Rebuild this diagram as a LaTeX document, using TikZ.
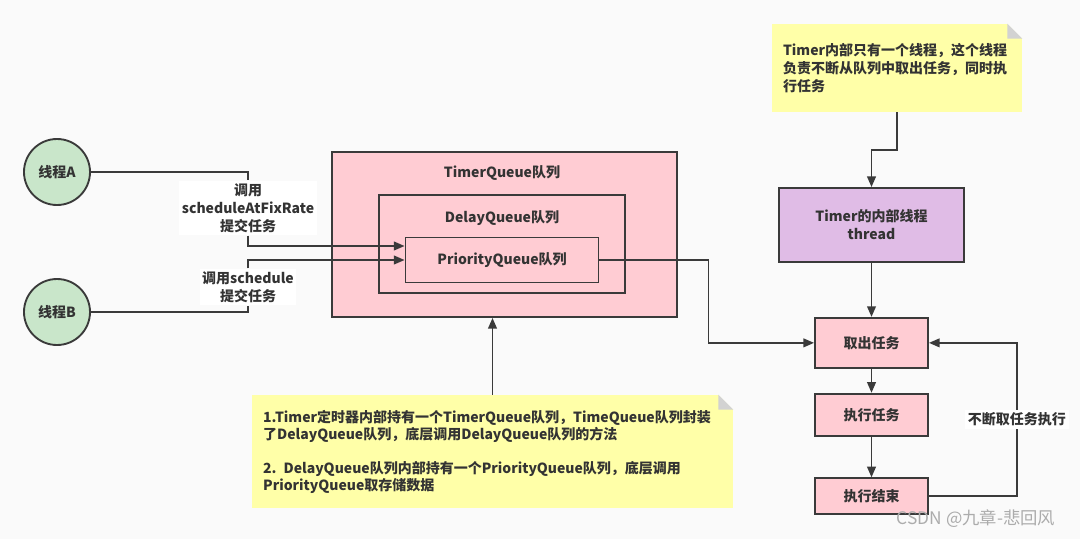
\documentclass[tikz,border=0pt]{standalone}
\usepackage{fontspec}
\setmainfont{Noto Sans CJK SC}
\usetikzlibrary{arrows.meta,positioning}

\definecolor{bgcol}{HTML}{FAFAFA}
\definecolor{linecol}{HTML}{3A3A3A}
\definecolor{txtcol}{HTML}{333333}
\definecolor{pinkfill}{HTML}{FFCCD3}
\definecolor{greenfill}{HTML}{C9E6CA}
\definecolor{purplefill}{HTML}{E0BCE6}
\definecolor{notefill}{HTML}{FFFFA8}
\definecolor{foldcol}{HTML}{D2D2D2}

\begin{document}
\begin{tikzpicture}[x=0.75pt, y=-0.75pt,
    every node/.style={font=\bfseries\fontsize{10.5}{13.5}\selectfont, text=txtcol, align=center},
    box/.style={draw=linecol, line width=1.4pt, rectangle, fill=pinkfill},
    task/.style={box, minimum width=84.75pt},
    thr/.style={draw=linecol, line width=1.4pt, circle, fill=greenfill, minimum size=49.5pt, inner sep=0pt},
    lbl/.style={fill=white, inner sep=2pt},
    note/.style={rectangle, fill=notefill, align=left, inner xsep=8.25pt},
    line/.style={draw=linecol, line width=1.4pt},
    arr/.style={line, -{Triangle[length=8pt, width=6.5pt]}}]
        \fill[bgcol] (0,0) rectangle (1080,539);

        % threads
        \node[thr] (thrA) at (57,172) {线程A};
        \node[thr] (thrB) at (57,312) {线程B};

        % nested queues
        \node[box, minimum width=258.75pt, minimum height=123.75pt] (timerq) at (504.5,234.5) {};
        \node (tqlabel) at (502,173) {TimerQueue队列};
        \node[box, minimum width=184.5pt, minimum height=73.5pt] (delayq) at (502,244) {};
        \node (dqlabel) at (502,218) {DelayQueue队列};
        \node[box, minimum width=144.75pt, minimum height=33.75pt] (prioq) at (502,260) {PriorityQueue队列};

        % labels on the thread lines
        \node[lbl] (labA) at (248,208) {调用\\scheduleAtFixRate\\提交任务};
        \node[lbl] (labB) at (248,287) {调用schedule\\提交任务};

        % notes
        \node[note, minimum width=187.5pt, minimum height=66pt, text width=171pt] (note1) at (897,68)
            {Timer内部只有一个线程，这个线程\\负责不断从队列中取出任务，同时执\\行任务};
        \fill[bgcol] ([xshift=-11.25pt]note1.north east) -- (note1.north east) -- ([yshift=-11.25pt]note1.north east) -- cycle;
        \fill[foldcol] ([xshift=-11.25pt]note1.north east) -- ([yshift=-11.25pt]note1.north east) -- ([xshift=-11.25pt, yshift=-11.25pt]note1.north east) -- cycle;

        \node[note, minimum width=360.75pt, minimum height=84.75pt, text width=344pt, font=\bfseries\fontsize{10.5}{12.75}\selectfont] (note2) at (492.5,451.5)
            {1.Timer定时器内部持有一个TimerQueue队列，TimeQueue队列封装\\了DelayQueue队列，底层调用DelayQueue队列的方法\\[12.75pt]2. DelayQueue队列内部持有一个PriorityQueue队列，底层调用\\PriorityQueue取存储数据};
        \fill[bgcol] ([xshift=-11.25pt]note2.north east) -- (note2.north east) -- ([yshift=-11.25pt]note2.north east) -- cycle;
        \fill[foldcol] ([xshift=-11.25pt]note2.north east) -- ([yshift=-11.25pt]note2.north east) -- ([xshift=-11.25pt, yshift=-11.25pt]note2.north east) -- cycle;

        % worker thread
        \node[box, fill=purplefill, minimum width=138.75pt, minimum height=55.5pt] (thread) at (871.5,225) {Timer的内部线程\\thread};
        \node[task, minimum height=37.5pt, below=40.5pt of thread] (quchu) {取出任务};
        \node[task, minimum height=31.5pt, below=18pt of quchu] (zhixing) {执行任务};
        \node[task, minimum height=27pt, below=30.5pt of zhixing] (jieshu) {执行结束};

        \draw[line] (thrA.east) -| (labA.north);
        \draw[arr] (labA.south) |- ([yshift=10.5pt]prioq.west);
        \draw[line] (thrB.east) -| (labB.south);
        \draw[arr] (labB.north) |- (prioq.west);
        \draw[arr] (prioq.east) -- ++(109,0) |- (quchu.west);
        \draw[arr] (note2.north) -- (note2.north |- timerq.south);
        \draw[arr] (note1.south) -- ++(0,38) -| (thread.north);
        \draw[arr] (thread) -- (quchu);
        \draw[arr] (quchu) -- (zhixing);
        \draw[arr] (zhixing) -- (jieshu);
        \draw[arr] (jieshu.east) -- ++(88,0) |- node[lbl, pos=0.25] (looplabel) {不断取任务执行} (quchu.east);

        \node[font=\fontsize{13}{15}\selectfont, text=gray!65] (mark) at (976,519) {CSDN @九章-悲回风};
    \end{tikzpicture}
\end{document}
